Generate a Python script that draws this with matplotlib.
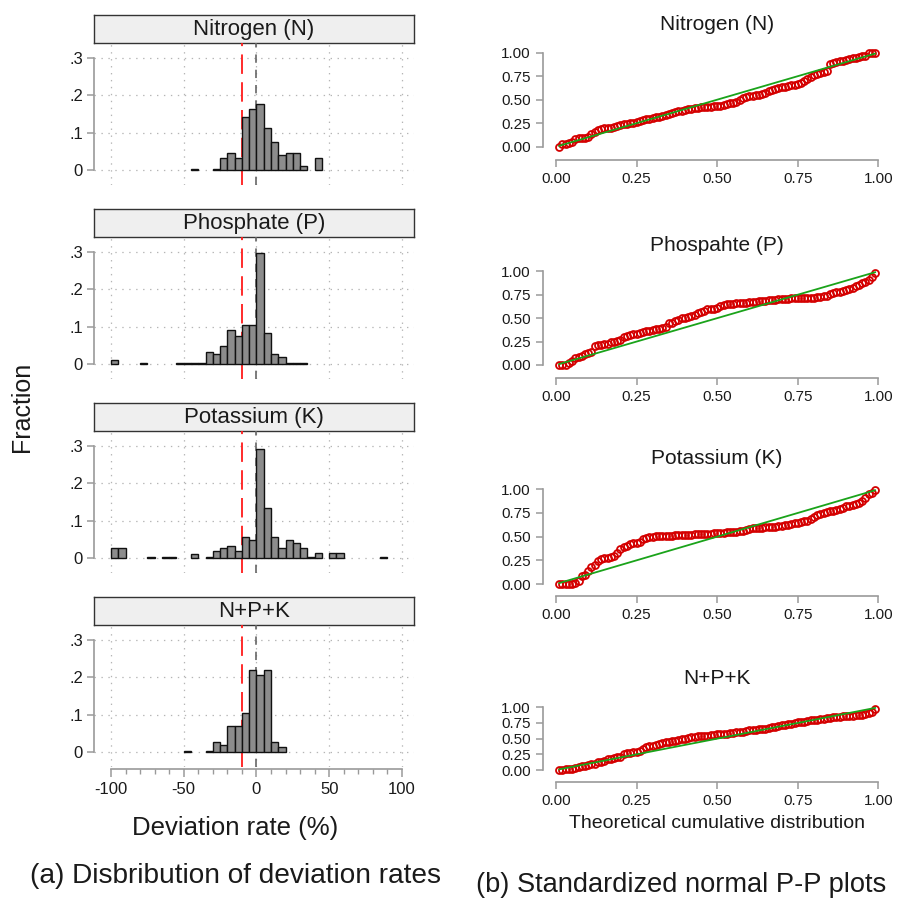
import matplotlib
matplotlib.use("Agg")
import matplotlib.pyplot as plt

plt.rcParams['font.family'] = ['Liberation Sans', 'DejaVu Sans']
plt.rcParams['lines.scale_dashes'] = False

# ---------------- data: histograms (bin left edge, fraction), bin width 5 ----------------
hist_titles = ["Nitrogen (N)", "Phosphate (P)", "Potassium (K)", "N+P+K"]
BIN_W = 5

n_edges = [-45, -30, -25, -20, -15, -10, -5, 0, 5, 10, 15, 20, 25, 30, 40]
n_frac = [0.004, 0.004, 0.034, 0.047, 0.034, 0.141, 0.162, 0.176, 0.112, 0.076,
          0.041, 0.047, 0.047, 0.012, 0.034]

p_edges = [-100, -80, -55, -50, -45, -40, -35, -30, -25, -20, -15, -10, -5, 0, 5,
           10, 15, 20, 25, 30]
p_frac = [0.012, 0.004, 0.004, 0.004, 0.004, 0.004, 0.033, 0.027, 0.048, 0.091,
          0.076, 0.105, 0.105, 0.297, 0.084, 0.027, 0.020, 0.004, 0.004, 0.004]

k_edges = [-100, -95, -75, -65, -60, -45, -35, -30, -25, -20, -15, -10, -5, 0, 5,
           10, 15, 20, 25, 30, 35, 40, 50, 55, 85]
k_frac = [0.027, 0.027, 0.004, 0.004, 0.004, 0.012, 0.004, 0.020, 0.027, 0.034,
          0.020, 0.056, 0.049, 0.290, 0.133, 0.056, 0.027, 0.049, 0.041, 0.027,
          0.004, 0.013, 0.013, 0.013, 0.004]

npk_edges = [-50, -35, -30, -25, -20, -15, -10, -5, 0, 5, 10, 15]
npk_frac = [0.004, 0.004, 0.027, 0.020, 0.070, 0.070, 0.105, 0.220, 0.206, 0.220,
            0.027, 0.013]

hist_edges = [n_edges, p_edges, k_edges, npk_edges]
hist_fracs = [n_frac, p_frac, k_frac, npk_frac]

ref_red = -10
ref_gray = 0
x_ticks = [-100, -50, 0, 50, 100]
x_ticklabels = ["-100", "-50", "0", "50", "100"]
x_minor = [-90, -80, -70, -60, -40, -30, -20, -10, 10, 20, 30, 40, 60, 70, 80, 90]
y_ticks = [0, 0.1, 0.2, 0.3]
y_ticklabels = ["0", ".1", ".2", ".3"]

# ---------------- data: P-P plots ----------------
pp_titles = ["Nitrogen (N)", "Phospahte (P)", "Potassium (K)", "N+P+K"]

# theoretical cumulative distribution (x) shared by all four panels
pp_x = [0.01, 0.02, 0.03, 0.04, 0.05, 0.06, 0.07, 0.08, 0.09, 0.10,
        0.11, 0.12, 0.13, 0.14, 0.15, 0.16, 0.17, 0.18, 0.19, 0.20,
        0.21, 0.22, 0.23, 0.24, 0.25, 0.26, 0.27, 0.28, 0.29, 0.30,
        0.31, 0.32, 0.33, 0.34, 0.35, 0.36, 0.37, 0.38, 0.39, 0.40,
        0.41, 0.42, 0.43, 0.44, 0.45, 0.46, 0.47, 0.48, 0.49, 0.50,
        0.51, 0.52, 0.53, 0.54, 0.55, 0.56, 0.57, 0.58, 0.59, 0.60,
        0.61, 0.62, 0.63, 0.64, 0.65, 0.66, 0.67, 0.68, 0.69, 0.70,
        0.71, 0.72, 0.73, 0.74, 0.75, 0.76, 0.77, 0.78, 0.79, 0.80,
        0.81, 0.82, 0.83, 0.84, 0.85, 0.86, 0.87, 0.88, 0.89, 0.90,
        0.91, 0.92, 0.93, 0.94, 0.95, 0.96, 0.97, 0.98, 0.99]

pp_n_y = [0.00, 0.03, 0.03, 0.04, 0.05, 0.08, 0.09, 0.09, 0.09, 0.10,
          0.13, 0.16, 0.18, 0.19, 0.20, 0.20, 0.20, 0.21, 0.22, 0.23,
          0.24, 0.24, 0.25, 0.25, 0.26, 0.27, 0.28, 0.29, 0.30, 0.31,
          0.32, 0.32, 0.33, 0.34, 0.35, 0.36, 0.37, 0.38, 0.38, 0.39,
          0.40, 0.40, 0.41, 0.41, 0.42, 0.42, 0.42, 0.42, 0.43, 0.43,
          0.43, 0.44, 0.45, 0.46, 0.47, 0.48, 0.50, 0.52, 0.53, 0.54,
          0.54, 0.55, 0.55, 0.56, 0.57, 0.59, 0.60, 0.61, 0.62, 0.63,
          0.64, 0.65, 0.66, 0.66, 0.67, 0.68, 0.70, 0.72, 0.74, 0.76,
          0.77, 0.78, 0.80, 0.81, 0.88, 0.89, 0.90, 0.91, 0.91, 0.92,
          0.93, 0.94, 0.94, 0.95, 0.96, 0.97, 1.00, 1.00, 1.00]

pp_p_y = [0.00, 0.00, 0.00, 0.02, 0.04, 0.07, 0.09, 0.10, 0.12, 0.13,
          0.14, 0.20, 0.21, 0.21, 0.22, 0.22, 0.25, 0.25, 0.26, 0.27,
          0.30, 0.31, 0.32, 0.33, 0.33, 0.34, 0.35, 0.36, 0.36, 0.37,
          0.38, 0.38, 0.40, 0.41, 0.45, 0.45, 0.47, 0.48, 0.50, 0.50,
          0.51, 0.52, 0.53, 0.55, 0.57, 0.58, 0.60, 0.60, 0.60, 0.61,
          0.63, 0.64, 0.65, 0.65, 0.65, 0.66, 0.66, 0.66, 0.66, 0.67,
          0.67, 0.67, 0.68, 0.68, 0.68, 0.69, 0.69, 0.69, 0.70, 0.70,
          0.70, 0.70, 0.71, 0.71, 0.71, 0.71, 0.72, 0.72, 0.72, 0.72,
          0.73, 0.73, 0.74, 0.74, 0.76, 0.77, 0.78, 0.78, 0.79, 0.80,
          0.81, 0.82, 0.84, 0.85, 0.87, 0.89, 0.91, 0.94, 0.98]

pp_k_y = [0.00, 0.00, 0.00, 0.00, 0.00, 0.01, 0.03, 0.08, 0.09, 0.14,
          0.18, 0.20, 0.24, 0.26, 0.27, 0.27, 0.28, 0.30, 0.33, 0.37,
          0.39, 0.40, 0.42, 0.43, 0.43, 0.44, 0.47, 0.49, 0.50, 0.50,
          0.51, 0.51, 0.51, 0.51, 0.51, 0.51, 0.52, 0.52, 0.52, 0.52,
          0.52, 0.52, 0.53, 0.53, 0.53, 0.53, 0.53, 0.53, 0.54, 0.54,
          0.54, 0.54, 0.55, 0.55, 0.55, 0.55, 0.56, 0.56, 0.57, 0.58,
          0.59, 0.59, 0.59, 0.59, 0.60, 0.60, 0.60, 0.60, 0.61, 0.61,
          0.62, 0.62, 0.63, 0.64, 0.64, 0.65, 0.66, 0.67, 0.69, 0.71,
          0.73, 0.74, 0.75, 0.76, 0.77, 0.77, 0.78, 0.79, 0.80, 0.82,
          0.82, 0.83, 0.85, 0.86, 0.88, 0.91, 0.95, 0.96, 0.99]

pp_npk_y = [0.00, 0.00, 0.01, 0.01, 0.02, 0.03, 0.05, 0.06, 0.07, 0.08,
            0.09, 0.10, 0.12, 0.13, 0.15, 0.17, 0.18, 0.19, 0.20, 0.21,
            0.25, 0.27, 0.27, 0.28, 0.29, 0.31, 0.33, 0.36, 0.38, 0.39,
            0.40, 0.41, 0.43, 0.44, 0.45, 0.46, 0.47, 0.48, 0.49, 0.50,
            0.51, 0.52, 0.53, 0.54, 0.54, 0.55, 0.55, 0.56, 0.56, 0.57,
            0.57, 0.58, 0.58, 0.59, 0.59, 0.60, 0.60, 0.61, 0.62, 0.63,
            0.63, 0.64, 0.65, 0.66, 0.66, 0.67, 0.68, 0.69, 0.70, 0.71,
            0.72, 0.73, 0.74, 0.75, 0.76, 0.77, 0.77, 0.78, 0.79, 0.80,
            0.80, 0.81, 0.82, 0.83, 0.83, 0.84, 0.85, 0.85, 0.86, 0.86,
            0.86, 0.86, 0.87, 0.87, 0.88, 0.89, 0.91, 0.93, 0.97]

pp_ys = [pp_n_y, pp_p_y, pp_k_y, pp_npk_y]
pp_ticks = [0, 0.25, 0.5, 0.75, 1.0]
pp_ticklabels = ["0.00", "0.25", "0.50", "0.75", "1.00"]

# ---------------- layout ----------------
W, H = 897, 899
fig = plt.figure(figsize=(W / 100, H / 100), dpi=100)


def rect(l, t, r, b):
    return [l / W, 1 - b / H, (r - l) / W, (b - t) / H]


AX_GRAY = '#9a9a9a'
TXT = '#1a1a1a'

# ---- left column: histograms ----
hist_tops = [43, 237, 431, 625]
for i, top in enumerate(hist_tops):
    sax = fig.add_axes(rect(94, top - 28, 414, top))
    sax.set_facecolor('#efefef')
    sax.set_xticks([])
    sax.set_yticks([])
    for s in sax.spines.values():
        s.set_color('#333333')
        s.set_linewidth(1.0)
    sax.text(0.5, 0.47, hist_titles[i], transform=sax.transAxes, ha='center',
             va='center', fontsize=16, color=TXT)

    ax = fig.add_axes(rect(94, top, 414, top + 142))
    ax.set_facecolor('none')
    ax.set_xlim(-111.7, 108.3)
    ax.set_ylim(-0.039, 0.339)
    ax.set_xticks(x_ticks)
    ax.set_yticks(y_ticks)
    ax.set_yticklabels(y_ticklabels)
    ax.grid(True, which='major', linestyle=(0, (1, 4)), color='#b5b5b5', linewidth=0.9)
    ax.set_axisbelow(True)
    ax.axvline(ref_gray, color='#666666', linestyle=(0, (6, 5)), linewidth=1.2, zorder=1)
    ax.axvline(ref_red, color='#ff1a1a', linestyle=(0, (14, 6)), linewidth=1.3, zorder=1)
    ax.bar(hist_edges[i], hist_fracs[i], width=BIN_W, align='edge', color='#8c8c8c',
           edgecolor='#111111', linewidth=1.0, zorder=2)
    for s in ['top', 'right']:
        ax.spines[s].set_visible(False)
    ax.spines['left'].set_bounds(0, 0.3)
    ax.spines['left'].set_color(AX_GRAY)
    ax.spines['left'].set_linewidth(1.2)
    ax.tick_params(axis='y', direction='out', length=5, width=1.1, color=AX_GRAY,
                   labelsize=12, labelcolor=TXT, pad=3)
    if i < 3:
        ax.spines['bottom'].set_visible(False)
        ax.tick_params(axis='x', bottom=False, labelbottom=False)
    else:
        ax.spines['bottom'].set_position(('outward', 1.5))
        ax.spines['bottom'].set_bounds(-100, 100)
        ax.spines['bottom'].set_color(AX_GRAY)
        ax.spines['bottom'].set_linewidth(1.2)
        ax.set_xticklabels(x_ticklabels)
        ax.set_xticks(x_minor, minor=True)
        ax.tick_params(axis='x', which='major', direction='out', length=6, width=1.1,
                       color=AX_GRAY, labelsize=12, labelcolor=TXT, pad=3)
        ax.tick_params(axis='x', which='minor', direction='out', length=3.5, width=1.0,
                       color=AX_GRAY)

fig.text(22 / W, 1 - 407 / H, "Fraction", rotation=90, ha='center', va='center',
         fontsize=18, color=TXT)
fig.text(235 / W, 1 - 828 / H, "Deviation rate (%)", ha='center', va='center',
         fontsize=18.5, color=TXT)
fig.text(235 / W, 1 - 876 / H, "(a) Disbribution of deviation rates", ha='center',
         va='center', fontsize=20.2, color=TXT)

# ---- right column: P-P plots ----
# (pixel of y=0, pixel of y=1, pixel of x-axis line, title pixel)
pp_geo = [(146.7, 52.7, 160.0, 25), (365.0, 271.3, 378.3, 245),
          (584.0, 489.3, 596.0, 459), (770.0, 707.3, 782.3, 678)]
X0, X1 = 556.0, 878.3
ppux = X1 - X0
left_px = 542.7
for i, (y0, y1, sp, ty) in enumerate(pp_geo):
    ppu = y0 - y1
    top = y1 - 8
    ax = fig.add_axes(rect(left_px, top, W, sp))
    ax.set_facecolor('none')
    ax.set_xlim((left_px - X0) / ppux, (W - X0) / ppux)
    ax.set_ylim(-(sp - y0) / ppu, 1 + 8 / ppu)
    ax.plot(pp_x, pp_ys[i], linestyle='none', marker='o', markersize=5,
            markerfacecolor='none', markeredgecolor='#d40000', markeredgewidth=1.3,
            zorder=2)
    ax.plot([pp_x[0], pp_x[-1]], [pp_x[0], pp_x[-1]], color='#1aa31a',
            linewidth=1.3, zorder=3)
    for s in ['top', 'right']:
        ax.spines[s].set_visible(False)
    for s in ['left', 'bottom']:
        ax.spines[s].set_color(AX_GRAY)
        ax.spines[s].set_linewidth(1.2)
        ax.spines[s].set_bounds(0, 1)
    ax.set_xticks(pp_ticks)
    ax.set_xticklabels(pp_ticklabels)
    ax.set_yticks(pp_ticks)
    ax.set_yticklabels(pp_ticklabels)
    ax.tick_params(direction='out', length=5, width=1.1, color=AX_GRAY,
                   labelsize=11, labelcolor=TXT, pad=3.5)
    fig.text(717 / W, 1 - ty / H, pp_titles[i], ha='center', va='center',
             fontsize=15, color=TXT)

fig.text(717 / W, 1 - 823 / H, "Theoretical cumulative distribution", ha='center',
         va='center', fontsize=14, color=TXT)
fig.text(476 / W, 1 - 885 / H, "(b) Standardized normal P-P plots", ha='left',
         va='center', fontsize=19.6, color=TXT)

fig.savefig("out.png", dpi=100, facecolor='white')
